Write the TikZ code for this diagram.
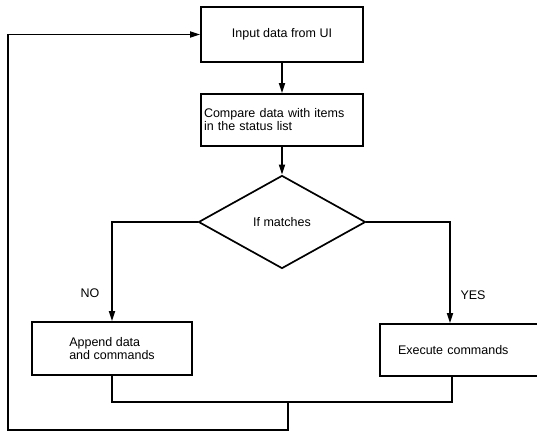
\documentclass[tikz,border=0pt]{standalone}
\usepackage{fontspec}
\setmainfont{Liberation Sans}
\usetikzlibrary{arrows.meta,shapes.geometric}
\tikzset{
  box/.style={draw,line width=1.7pt,align=left,inner sep=0pt,font=\fontsize{12.5}{13}\selectfont},
  lbl/.style={font=\fontsize{12.5}{13}\selectfont},
  wire/.style={line width=1.7pt},
  arr/.style={wire,-{Triangle[length=10pt,width=6pt]}}
}

\begin{document}
\begin{tikzpicture}[x=1pt,y=-1pt]
\useasboundingbox (0,0) rectangle (537,431);
\node[box,minimum width=162pt,minimum height=55pt] (input) at (282,34.5) {Input data from UI};
\node[box,minimum width=162pt,minimum height=52pt,text width=156pt] (cmp) at (282,120) {Compare data with items\\in the status list};
\node[box,diamond,align=center,minimum width=167pt,minimum height=93pt] (dia) at (282,222) {If matches};
\node[box,minimum width=160pt,minimum height=53pt] (app) at (112,348.5) {Append data\\and commands};
\node[box,minimum width=165pt,minimum height=52pt,text width=129pt] (exec) at (462.5,350) {Execute commands};
\node[lbl] (no) at (90,293) {NO};
\node[lbl] (yes) at (473,295) {YES};
\coordinate (join) at (288,402);
\coordinate (corner) at (8,430);
\draw[arr] (input) -- (cmp);
\draw[arr] (cmp) -- (dia);
\draw[arr] (dia.west) -| (app.north);
\draw[arr] (dia.east) -| ([xshift=-12.5pt]exec.north);
\draw[wire] (app.south) |- (join) -| ([xshift=-10.5pt]exec.south);
\draw[arr] (join) |- (corner) |- (input.west);
\end{tikzpicture}
\end{document}
